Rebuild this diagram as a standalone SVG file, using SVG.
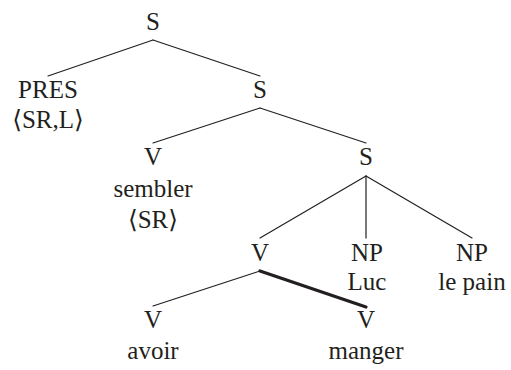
<svg xmlns="http://www.w3.org/2000/svg" width="511" height="370" viewBox="0 0 511 370">
<style>
text{font-family:'Liberation Serif','Times New Roman',Times,'DejaVu Serif',serif;font-size:25px;fill:#231f20;text-anchor:middle}
.e{stroke:#231f20;stroke-width:1.2;fill:none;stroke-linecap:round}
.h{stroke-width:3.2}
</style>
<rect width="511" height="370" fill="#fff"/>
<g id="connectors">
<line class="e" x1="153" y1="40" x2="48" y2="76"/>
<line class="e" x1="153" y1="40" x2="260" y2="76"/>
<line class="e" x1="260" y1="108" x2="153" y2="143"/>
<line class="e" x1="260" y1="108" x2="366" y2="143"/>
<line class="e" x1="366" y1="176" x2="260" y2="238"/>
<line class="e" x1="366" y1="176" x2="366" y2="238"/>
<line class="e" x1="366" y1="176" x2="472" y2="238"/>
<line class="e" x1="260" y1="271" x2="153" y2="306"/>
<line class="e h" x1="260" y1="271" x2="366" y2="307"/>
</g>
<g id="n-S1"><text x="153" y="30">S</text></g>
<g id="n-PRES"><text x="48" y="98">PRES</text><text x="48" y="128">⟨SR,L⟩</text></g>
<g id="n-S2"><text x="260" y="98">S</text></g>
<g id="n-V1"><text x="153" y="165">V</text><text x="153" y="197">sembler</text><text x="153" y="228">⟨SR⟩</text></g>
<g id="n-S3"><text x="366" y="165">S</text></g>
<g id="n-V2"><text x="260" y="261">V</text></g>
<g id="n-NP1"><text x="367" y="261">NP</text><text x="367" y="290">Luc</text></g>
<g id="n-NP2"><text x="472" y="261">NP</text><text x="472" y="290">le pain</text></g>
<g id="n-V3"><text x="153" y="328">V</text><text x="153" y="359">avoir</text></g>
<g id="n-V4"><text x="366" y="328">V</text><text x="366" y="359">manger</text></g>
</svg>
